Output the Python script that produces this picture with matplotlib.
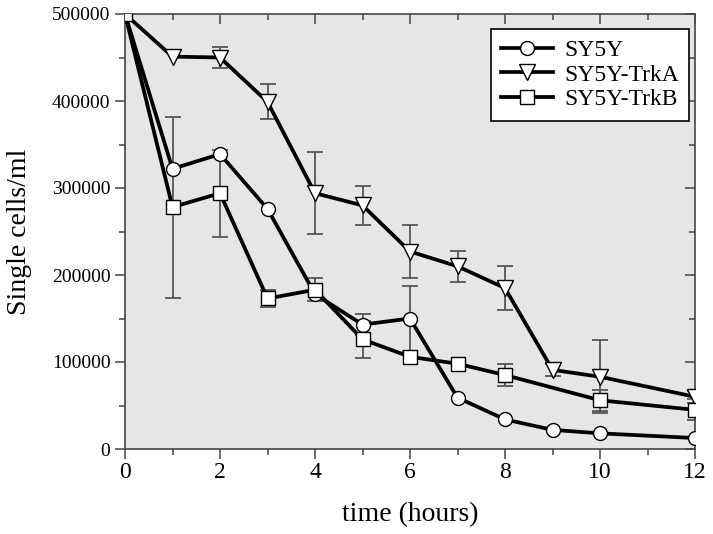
import matplotlib
matplotlib.use("Agg")
import matplotlib.pyplot as plt
import numpy as np
from matplotlib.ticker import MultipleLocator

plt.rcParams['font.family'] = ['Liberation Serif', 'DejaVu Serif']

t = [0, 1, 2, 3, 4, 5, 6, 7, 8, 9, 10, 12]
sy5y = [500000, 322000, 339000, 276000, 178000, 143000, 150000, 59000, 34000, 22000, 18000, 12600]
sy5y_err = [0, 0, 0, 0, 0, 12000, 37000, 0, 0, 0, 0, 0]
trka = [500000, 451000, 450000, 399000, 294000, 280000, 227000, 210000, 185000, 91000, 83000, 60000]
trka_err = [0, 0, 12000, 20000, 47000, 22000, 30000, 18000, 25000, 7000, 42000, 7000]
trkb = [500000, 278000, 294000, 173000, 183000, 126000, 106000, 98000, 85000, None, 56000, 45000]
trkb_err = [0, 104000, 50000, 10000, 13000, 21000, 0, 0, 13000, None, 12000, 12000]

tb = [x for x, v in zip(t, trkb) if v is not None]
vb = [v for v in trkb if v is not None]
eb = [e for e in trkb_err if e is not None]

fig = plt.figure(figsize=(7.13, 5.34), dpi=100)
ax = fig.add_axes([125/713, 1-449/534, 570/713, 435/534])
ax.set_facecolor('#e6e6e6')

ecol = '#555555'
for x, y, e in [(t, sy5y, sy5y_err), (t, trka, trka_err), (tb, vb, eb)]:
    xs = [a for a, b in zip(x, e) if b > 0]
    ys = [a for a, b in zip(y, e) if b > 0]
    es = [b for b in e if b > 0]
    ax.errorbar(xs, ys, yerr=es, fmt='none', ecolor=ecol, elinewidth=1.3,
                capsize=6, capthick=1.3, zorder=2)

ms = 10
ax.plot(t, sy5y, '-o', color='black', lw=2.7, ms=ms, mfc='white', mec='black', mew=1.0,
        label='SY5Y', zorder=3)
ax.plot(t, trka, '-v', color='black', lw=2.7, ms=ms+1, mfc='white', mec='black', mew=1.0,
        label='SY5Y-TrkA', zorder=3)
ax.plot(tb, vb, '-s', color='black', lw=2.7, ms=ms-0.5, mfc='white', mec='black', mew=1.0,
        label='SY5Y-TrkB', zorder=3)

ax.set_xlim(0, 12)
ax.set_ylim(0, 500000)
ax.set_xticks([0, 2, 4, 6, 8, 10, 12])
ax.xaxis.set_minor_locator(MultipleLocator(1))
ax.set_yticks([0, 100000, 200000, 300000, 400000, 500000])
ax.yaxis.set_minor_locator(MultipleLocator(50000))

for s in ax.spines.values():
    s.set_color('#444444')
    s.set_linewidth(1.2)

ax.tick_params(axis='both', which='both', direction='out', color='#444444', width=1.1)
ax.tick_params(axis='both', which='major', length=7, labelsize=14)
ax.tick_params(axis='both', which='minor', length=4)
ax.tick_params(axis='x', which='major', pad=2, labelsize=17)

# inward ticks on top and right
axt = ax.secondary_xaxis('top')
axt.set_xticks([0, 2, 4, 6, 8, 10, 12])
axt.xaxis.set_minor_locator(MultipleLocator(1))
axt.tick_params(which='both', direction='in', labeltop=False, color='#444444', width=1.1)
axt.tick_params(which='major', length=7)
axt.tick_params(which='minor', length=4)
axr = ax.secondary_yaxis('right')
axr.set_yticks([0, 100000, 200000, 300000, 400000, 500000])
axr.yaxis.set_minor_locator(MultipleLocator(50000))
axr.tick_params(which='both', direction='in', labelright=False, color='#444444', width=1.1)
axr.tick_params(which='major', length=7)
axr.tick_params(which='minor', length=4)
axt.spines['top'].set_visible(False)
axr.spines['right'].set_visible(False)

ax.set_xlabel('time (hours)', fontsize=20, labelpad=14)
ax.set_ylabel('Single cells/ml', fontsize=20, labelpad=14)

leg = ax.legend(loc='upper right', bbox_to_anchor=(0.99, 0.965), fontsize=17,
                frameon=True, fancybox=False, edgecolor='black', facecolor='white',
                handlelength=2.2, borderpad=0.45, labelspacing=0.12, handletextpad=0.45,
                borderaxespad=0.0)
leg.get_frame().set_linewidth(1.2)
leg.get_frame().set_alpha(1)

fig.savefig('out.png', dpi=100)
